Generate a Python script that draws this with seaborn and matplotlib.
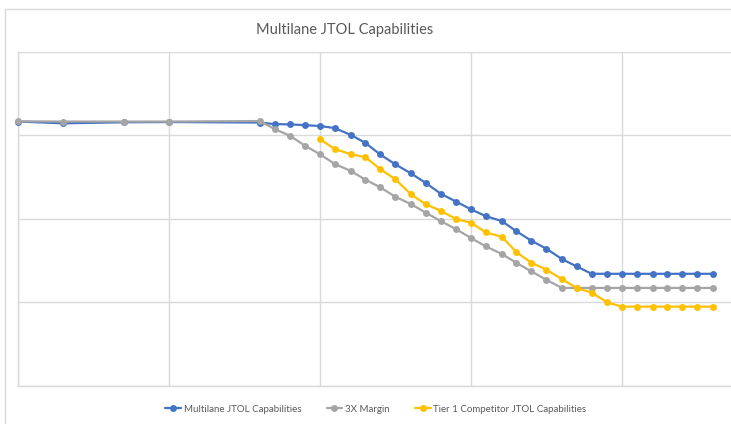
import numpy as np
import pandas as pd
import matplotlib
matplotlib.use("Agg")
import matplotlib.pyplot as plt
import seaborn as sns
from matplotlib.patches import Rectangle

# fréquences (Hz), échelle log
freq = [1e3, 2e3, 5e3, 1e4, 4e4, 5e4, 6.3e4, 8e4,
        1e5, 1.25e5, 1.6e5, 2e5, 2.5e5, 3.15e5, 4e5, 5e5, 6.3e5, 8e5,
        1e6, 1.25e6, 1.6e6, 2e6, 2.5e6, 3.15e6, 4e6, 5e6, 6.3e6, 8e6,
        1e7, 1.25e7, 1.6e7, 2e7, 2.5e7, 3.15e7, 4e7]

multilane = [14.6, 13.9, 14.3, 14.4, 14.2, 13.6, 13.5, 13.2,
             12.9, 12.2, 10.1, 8.1, 5.9, 4.5, 3.5, 2.7, 2.0, 1.6,
             1.3, 1.08, 0.94, 0.71, 0.55, 0.44, 0.33, 0.27, 0.22, 0.22,
             0.22, 0.22, 0.22, 0.22, 0.22, 0.22, 0.22]

margin_3x = [14.7, 14.6, 14.6, 14.6, 14.8, 11.9, 9.9, 7.45,
             5.93, 4.54, 3.74, 2.94, 2.39, 1.84, 1.50, 1.19, 0.94, 0.75,
             0.59, 0.47, 0.38, 0.297, 0.236, 0.187, 0.149, 0.149, 0.149, 0.149,
             0.149, 0.149, 0.149, 0.149, 0.149, 0.149, 0.149]

tier1 = [np.nan] * 8 + [8.96, 6.86, 5.93, 5.46, 3.95, 2.98, 1.97, 1.50, 1.25, 0.99,
                        0.90, 0.69, 0.61, 0.40, 0.30, 0.247, 0.19, 0.149, 0.131, 0.10,
                        0.089, 0.089, 0.089, 0.089, 0.089, 0.089, 0.089]

series = {
    "Multilane JTOL Capabilities": (multilane, "#4472C4"),
    "3X Margin": (margin_3x, "#A5A5A5"),
    "Tier 1 Competitor JTOL Capabilities": (tier1, "#FFC000"),
}

sns.set_style("white")
plt.rcParams['font.family'] = ['Lato', 'DejaVu Sans']

fig = plt.figure(figsize=(7.31, 4.24), dpi=100)
ax = fig.add_axes([18 / 731, 38 / 424, 713 / 731, 334.3 / 424])

for name, (vals, col) in series.items():
    df = pd.DataFrame({"f": freq, "v": vals}).dropna()
    sns.lineplot(data=df, x="f", y="v", ax=ax, color=col, marker="o",
                 markersize=5, markeredgewidth=0, linewidth=1.6, label=name,
                 clip_on=False, zorder=3)

ax.set_xscale("log")
ax.set_yscale("log")
ax.set_xlim(1e3, 5.27e7)
ax.set_ylim(0.01, 100)
ax.set_xticks([1e3, 1e4, 1e5, 1e6, 1e7])
ax.set_yticks([0.01, 0.1, 1, 10, 100])
ax.minorticks_off()
ax.set_xticklabels([])
ax.set_yticklabels([])
ax.tick_params(length=0)
ax.set_xlabel("")
ax.set_ylabel("")
ax.grid(True, color="#D9D9D9", linewidth=1)
ax.set_axisbelow(True)
for s in ["top", "right"]:
    ax.spines[s].set_visible(False)
for s in ["left", "bottom"]:
    ax.spines[s].set_color("#D9D9D9")
    ax.spines[s].set_linewidth(1)

ax.get_legend().remove()
h, l = ax.get_legend_handles_labels()
fig.legend(h, l, loc="center", bbox_to_anchor=(376 / 731, 1 - 409 / 424), ncol=3,
           frameon=False, fontsize=7, handlelength=1.6, columnspacing=2.6,
           handletextpad=0.3, labelcolor="#595959")

fig.text(345 / 731, 1 - 30 / 424, "Multilane JTOL Capabilities", ha="center",
         va="center", fontsize=10.5, color="#595959")

# bordure de la zone du graphique
fig.patches.append(Rectangle((4.7 / 731, -0.1), 2, (424 - 9.3) / 424 + 0.1,
                             transform=fig.transFigure, fill=False,
                             edgecolor="#D9D9D9", linewidth=1))

fig.savefig("out.png", dpi=100)
